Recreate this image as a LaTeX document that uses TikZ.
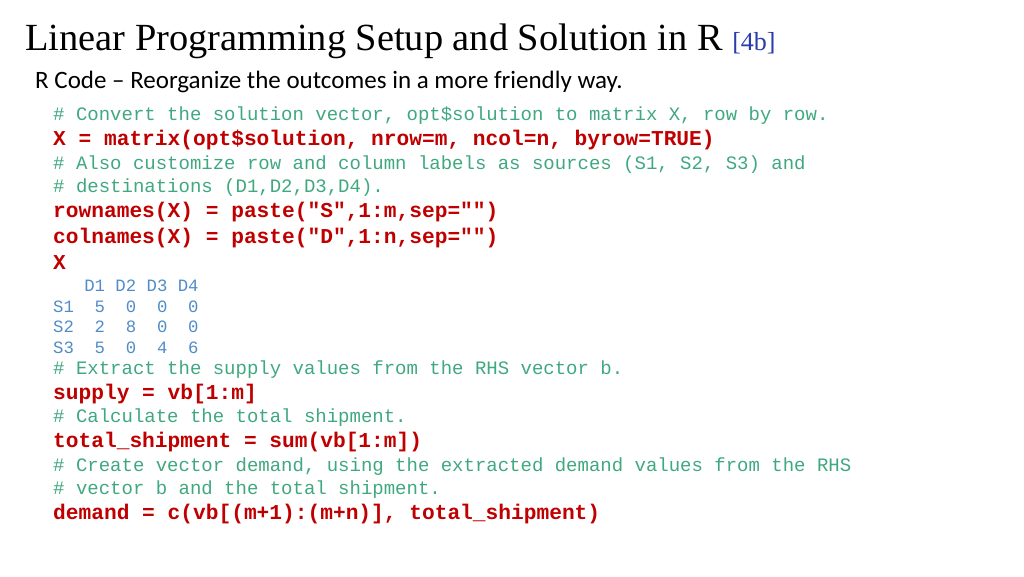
\documentclass[tikz,border=0pt]{standalone}
\usepackage{fontspec}
\setmainfont{Liberation Serif}
\newfontfamily\slidesans{Carlito}
\newfontfamily\codefont{Liberation Mono}
\definecolor{cmtgreen}{RGB}{64,168,128}
\definecolor{codered}{RGB}{192,0,0}
\definecolor{outblue}{RGB}{80,140,200}
\definecolor{tagblue}{RGB}{40,60,170}
\begin{document}
\begin{tikzpicture}[x=1pt,y=-1pt,
	cmt/.style={anchor=west,inner sep=0pt,text=cmtgreen,font=\codefont\fontsize{19}{20}\selectfont},
	cmd/.style={anchor=west,inner sep=0pt,text=codered,font=\codefont\bfseries\fontsize{21.2}{22}\selectfont},
	rout/.style={anchor=west,inner sep=0pt,text=outblue,font=\codefont\fontsize{17.3}{18}\selectfont}]
	\useasboundingbox (0,0) rectangle (1024,576);
	%title and subtitle
	\node[anchor=base west,inner sep=0pt,font=\fontsize{38.4}{40}\selectfont] (title) at (25,50)
		{Linear Programming Setup and Solution in R \textcolor{tagblue}{\fontsize{26}{28}\selectfont[4b]}};
	\node[anchor=base west,inner sep=0pt,font=\slidesans\fontsize{25}{27}\selectfont] (sub) at (35,88)
		{R Code \textendash{} Reorganize the outcomes in a more friendly way.};
	%code lines
	\node[cmt] (c1) at (53,116) {\# Convert the solution vector, opt\$solution to matrix X, row by row.};
	\node[cmd] (l1) at (53,140) {X = matrix(opt\$solution, nrow=m, ncol=n, byrow=TRUE)};
	\node[cmt] (c2) at (53,165) {\# Also customize row and column labels as sources (S1, S2, S3) and};
	\node[cmt] (c3) at (53,188) {\# destinations (D1,D2,D3,D4).};
	\node[cmd] (l2) at (53,212) {rownames(X) = paste("S",1:m,sep="")};
	\node[cmd] (l3) at (53,238) {colnames(X) = paste("D",1:n,sep="")};
	\node[cmd] (l4) at (53,263) {X};
	%printed matrix
	\node[rout] (o0) at (53,286) {\ \ \ D1 D2 D3 D4};
	\node[rout] (o1) at (53,307) {S1\ \ 5\ \ 0\ \ 0\ \ 0};
	\node[rout] (o2) at (53,327) {S2\ \ 2\ \ 8\ \ 0\ \ 0};
	\node[rout] (o3) at (53,348) {S3\ \ 5\ \ 0\ \ 4\ \ 6};
	%supply and demand
	\node[cmt] (c4) at (53,370) {\# Extract the supply values from the RHS vector b.};
	\node[cmd] (l5) at (53,394) {supply = vb[1:m]};
	\node[cmt] (c5) at (53,418) {\# Calculate the total shipment.};
	\node[cmd] (l6) at (53,442) {total\_shipment = sum(vb[1:m])};
	\node[cmt] (c6) at (53,467) {\# Create vector demand, using the extracted demand values from the RHS};
	\node[cmt] (c7) at (53,490) {\# vector b and the total shipment.};
	\node[cmd] (l7) at (53,514) {demand = c(vb[(m+1):(m+n)], total\_shipment)};
\end{tikzpicture}
\end{document}
